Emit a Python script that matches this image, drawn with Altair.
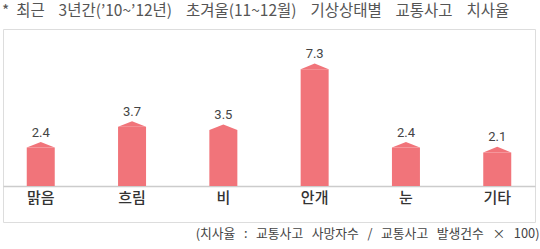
import altair as alt
import pandas as pd

categories = ["맑음", "흐림", "비", "안개", "눈", "기타"]
values = [2.4, 3.7, 3.5, 7.3, 2.4, 2.1]
labels = ["2.4", "3.7", "3.5", "7.3", "2.4", "2.1"]

GAP = "\u00a0\u00a0 "
TGAP = "\u00a0\u00a0\u00a0 "
title_words = ["*", "최근", "3년간(’10~’12년)", "초겨울(11~12월)", "기상상태별", "교통사고", "치사율"]
note_words = ["(치사율", ":", "교통사고", "사망자수", "/", "교통사고", "발생건수", "×", "100)"]
title_text = title_words[0] + "\u00a0 " + TGAP.join(title_words[1:])
note_text = GAP.join(note_words)

df = pd.DataFrame({"cat": categories, "val": values, "lab": labels})

BAR = "#F1747A"
KFONT = "Noto Sans CJK KR"

x_enc = alt.X(
    "cat:N",
    sort=categories,
    scale=alt.Scale(paddingInner=0.693, paddingOuter=0.26),
    axis=alt.Axis(
        title=note_text,
        titleFont=KFONT,
        titleFontSize=12.8,
        titleFontWeight="normal",
        titleColor="#444444",
        titleAnchor="end",
        titleAlign="right",
        titleBaseline="middle",
        titleX=536,
        titleY=47,
        offset=-36,
        domainColor="#cccccc",
        domainWidth=1.5,
        ticks=False,
        labelAngle=0,
        labelFont=KFONT,
        labelFontSize=15,
        labelFontWeight=500,
        labelColor="#333333",
        labelPadding=4,
    ),
)
y_scale = alt.Scale(domain=[0, 9.75], range=[157, 1], nice=False, zero=True)
y_enc = alt.Y("val:Q", scale=y_scale, axis=None)

base = alt.Chart(df)

bars = base.mark_bar(color=BAR, size=28).encode(x=x_enc, y=y_enc)
tips = base.mark_point(
    shape="M-1,0L0,-0.4L1,0Z", filled=True, color=BAR, size=784, opacity=1, strokeWidth=0
).encode(x=x_enc, y=y_enc)
texts = base.mark_text(
    font="Roboto", fontSize=13, color="#444444", baseline="alphabetic", dy=-11
).encode(x=x_enc, y=y_enc, text="lab:N")

chart = (
    alt.layer(bars, tips, texts)
    .properties(
        width=532,
        height=193,
        autosize=alt.AutoSizeParams(type="none"),
        padding={"left": 3, "top": 29, "right": 5, "bottom": 27},
        title=alt.TitleParams(
            text=title_text,
            anchor="start",
            frame="group",
            font=KFONT,
            fontSize=15.5,
            fontWeight="normal",
            color="#555555",
            baseline="middle",
            offset=3,
            dx=-1,
        ),
    )
    .configure_view(stroke="#d2d2d2", strokeWidth=2)
    .configure(background="white")
)

chart.save("out.html", embed_options={"renderer": "svg", "actions": False})
